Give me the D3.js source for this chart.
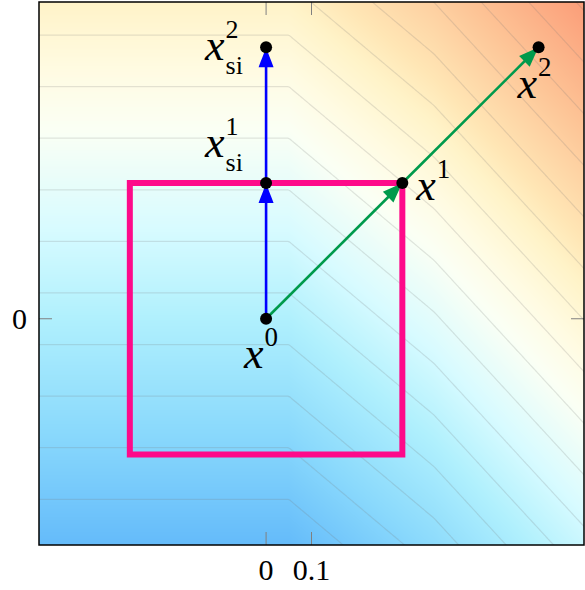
<!DOCTYPE html>
<html>
<head>
<meta charset="utf-8">
<script src="https://cdn.jsdelivr.net/npm/d3@7"></script>
<style>
  html, body { margin: 0; padding: 0; background: #fff; }
  svg { display: block; }
</style>
</head>
<body>
<div id="chart"></div>
<script>
// ---- data ----
const xDomain = [-0.5, 0.7];
const yDomain = [-0.5, 0.7];
const xTicks = [0, 0.1];
const yTicks = [0];

// iterates
const pointNames = ["x0", "x1", "x2", "xsi1", "xsi2"];
const pointX = [0, 0.3, 0.6, 0, 0];
const pointY = [0, 0.3, 0.6, 0.3, 0.6];
const greenSteps = [[0, 1], [1, 2]];
const blueSteps = [[0, 3], [3, 4]];

// feasible box
const boxX = [-0.3, 0.3];
const boxY = [-0.3, 0.3];

// objective surface f(x, y) = y + g(x), g piecewise linear
const surfaceKnotX = [-0.5, 0.05, 0.37, 0.7];
const surfaceKnotG = [0, 0, 0.27, 0.63];
const contourLevels = [-0.399, -0.285, -0.171, -0.057, 0.057, 0.171, 0.285, 0.399,
  0.513, 0.627, 0.741, 0.855, 0.969, 1.083, 1.197, 1.311];
const colorStops = [-0.5, -0.25, 0, 0.2, 0.42, 0.55, 0.7, 0.8, 1.05, 1.35];
const colorValues = ["#64bbfa", "#8ad9fc", "#b0f0fd", "#d8fbff", "#fbfff4", "#fffbe2",
  "#fff3c8", "#ffe6b5", "#fdc496", "#fb9a76"];

// labels: superscript, subscript
const labelSup = ["0", "1", "2", "1", "2"];
const labelSub = ["", "", "", "si", "si"];

// ---- layout ----
const W = 585, H = 590;
const plot = { left: 39, right: 584, top: 2, bottom: 545 };
const serif = "'Liberation Serif', 'DejaVu Serif', serif";

const x = d3.scaleLinear().domain(xDomain).range([plot.left, plot.right]);
const y = d3.scaleLinear().domain(yDomain).range([plot.bottom, plot.top]);

const gOf = d3.scaleLinear().domain(surfaceKnotX).range(surfaceKnotG);
const f = (a, b) => b + gOf(a);
const color = d3.scaleLinear().domain(colorStops).range(colorValues).clamp(true);

const svg = d3.select("#chart").append("svg")
  .attr("width", W).attr("height", H)
  .style("font-family", serif);

const defs = svg.append("defs");
defs.append("clipPath").attr("id", "plot-clip")
  .append("rect")
  .attr("x", plot.left).attr("y", plot.top)
  .attr("width", plot.right - plot.left).attr("height", plot.bottom - plot.top);

// arrow heads
function addArrow(id, fill) {
  defs.append("marker")
    .attr("id", id)
    .attr("markerUnits", "userSpaceOnUse")
    .attr("viewBox", "-22 -9 24 18")
    .attr("refX", 0).attr("refY", 0)
    .attr("markerWidth", 24).attr("markerHeight", 18)
    .attr("orient", "auto")
    .append("path")
    .attr("d", "M0,0 C-6,-2 -13,-5 -20,-7.5 L-20,7.5 C-13,5 -6,2 0,0 Z")
    .attr("fill", fill);
}
addArrow("arrow-blue", "#0000ff");
addArrow("arrow-green", "#009a4c");

// ---- background shading ----
const pw = plot.right - plot.left, ph = plot.bottom - plot.top;
const canvas = document.createElement("canvas");
canvas.width = pw; canvas.height = ph;
const ctx = canvas.getContext("2d");
const img = ctx.createImageData(pw, ph);
for (let j = 0; j < ph; j++) {
  const yv = y.invert(plot.top + j + 0.5);
  for (let i = 0; i < pw; i++) {
    const xv = x.invert(plot.left + i + 0.5);
    const c = d3.rgb(color(f(xv, yv)));
    const k = (j * pw + i) * 4;
    img.data[k] = c.r; img.data[k + 1] = c.g; img.data[k + 2] = c.b; img.data[k + 3] = 255;
  }
}
ctx.putImageData(img, 0, 0);

const plotG = svg.append("g").attr("clip-path", "url(#plot-clip)");
plotG.append("image")
  .attr("x", plot.left).attr("y", plot.top)
  .attr("width", pw).attr("height", ph)
  .attr("preserveAspectRatio", "none")
  .attr("href", canvas.toDataURL());

// ---- contour lines ----
const step = 0.004;
const gx0 = -0.56, gy1 = 0.76;
const n = Math.round((0.76 - -0.56) / step) + 1;
const grid = new Array(n * n);
for (let j = 0; j < n; j++) {
  for (let i = 0; i < n; i++) {
    grid[j * n + i] = f(gx0 + i * step, gy1 - j * step);
  }
}
const contours = d3.contours().size([n, n]).thresholds(contourLevels)(grid);
const toPx = d3.geoTransform({
  point: function (px, py) {
    this.stream.point(x(gx0 + (px - 0.5) * step), y(gy1 - (py - 0.5) * step));
  }
});
plotG.append("g")
  .selectAll("path")
  .data(contours)
  .join("path")
  .attr("d", d3.geoPath(toPx))
  .attr("fill", "none")
  .attr("stroke", "#7a7a7a")
  .attr("stroke-opacity", 0.2)
  .attr("stroke-width", 1.2);

// ---- feasible box ----
svg.append("rect")
  .attr("x", x(boxX[0])).attr("y", y(boxY[1]))
  .attr("width", x(boxX[1]) - x(boxX[0]))
  .attr("height", y(boxY[0]) - y(boxY[1]))
  .attr("fill", "none")
  .attr("stroke", "#fe0a8a")
  .attr("stroke-width", 6);

// ---- steps ----
function drawSteps(steps, stroke, marker) {
  svg.append("g")
    .selectAll("line")
    .data(steps)
    .join("line")
    .attr("x1", d => x(pointX[d[0]])).attr("y1", d => y(pointY[d[0]]))
    .attr("x2", d => x(pointX[d[1]])).attr("y2", d => y(pointY[d[1]]))
    .attr("stroke", stroke)
    .attr("stroke-width", 2.6)
    .attr("marker-end", `url(#${marker})`);
}
drawSteps(blueSteps, "#0000ff", "arrow-blue");
drawSteps(greenSteps, "#009a4c", "arrow-green");

// ---- dots ----
svg.append("g")
  .selectAll("circle")
  .data(pointNames)
  .join("circle")
  .attr("cx", (d, i) => x(pointX[i]))
  .attr("cy", (d, i) => y(pointY[i]))
  .attr("r", 6)
  .attr("fill", "#000");

// ---- labels ----
// offset of the "x" glyph (left, baseline) from its point
const labelOffset = {
  x0: [-22, 49],
  x1: [14, 17],
  x2: [-21, 51],
  xsi1: [-61, -26],
  xsi2: [-61, 13]
};
const labels = svg.append("g");
pointNames.forEach((name, i) => {
  const px = x(pointX[i]) + labelOffset[name][0];
  const py = y(pointY[i]) + labelOffset[name][1];
  const base = labels.append("text")
    .attr("x", px).attr("y", py)
    .attr("font-size", 44)
    .attr("font-style", "italic")
    .text("x");
  const w = base.node().getComputedTextLength();
  const hasSub = !!labelSub[i];
  labels.append("text")
    .attr("x", px + w + 1).attr("y", py - 22)
    .attr("font-size", hasSub ? 26 : 27)
    .text(labelSup[i]);
  if (hasSub) {
    labels.append("text")
      .attr("x", px + w + 1).attr("y", py + 14)
      .attr("font-size", 26)
      .text(labelSub[i]);
  }
});

// ---- axes ----
const tickLen = 13;
const axisG = svg.append("g");
xTicks.forEach(t => {
  axisG.append("line")
    .attr("x1", x(t)).attr("x2", x(t))
    .attr("y1", plot.bottom).attr("y2", plot.bottom - tickLen)
    .attr("stroke", "#808080").attr("stroke-width", 1);
  axisG.append("line")
    .attr("x1", x(t)).attr("x2", x(t))
    .attr("y1", plot.top).attr("y2", plot.top + tickLen)
    .attr("stroke", "#808080").attr("stroke-width", 1);
});
yTicks.forEach(t => {
  axisG.append("line")
    .attr("x1", plot.left).attr("x2", plot.left + tickLen)
    .attr("y1", y(t)).attr("y2", y(t))
    .attr("stroke", "#808080").attr("stroke-width", 1);
  axisG.append("line")
    .attr("x1", plot.right).attr("x2", plot.right - tickLen)
    .attr("y1", y(t)).attr("y2", y(t))
    .attr("stroke", "#808080").attr("stroke-width", 1);
});

axisG.selectAll(".xlab")
  .data(xTicks)
  .join("text")
  .attr("class", "xlab")
  .attr("x", d => x(d)).attr("y", plot.bottom + 35)
  .attr("text-anchor", "middle")
  .attr("font-size", 30)
  .text(d => d3.format("")(d));

axisG.selectAll(".ylab")
  .data(yTicks)
  .join("text")
  .attr("class", "ylab")
  .attr("x", plot.left - 12).attr("y", d => y(d) + 10)
  .attr("text-anchor", "end")
  .attr("font-size", 30)
  .text(d => d3.format("")(d));

svg.append("rect")
  .attr("x", plot.left).attr("y", plot.top)
  .attr("width", plot.right - plot.left).attr("height", plot.bottom - plot.top)
  .attr("fill", "none")
  .attr("stroke", "#000")
  .attr("stroke-width", 1.5);
</script>
</body>
</html>
